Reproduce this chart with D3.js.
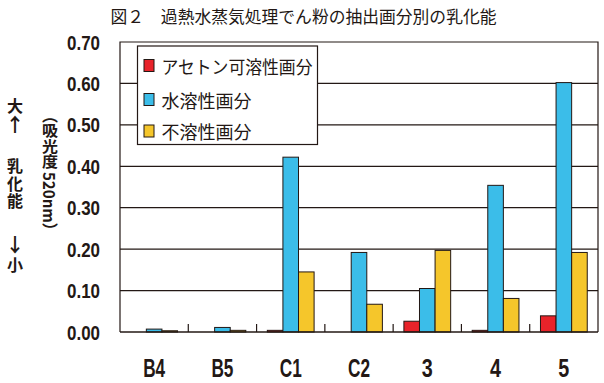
<!DOCTYPE html>
<html><head><meta charset="utf-8">
<script src="https://cdn.jsdelivr.net/npm/d3@7"></script>
<style>body{margin:0;background:#fff}svg{display:block}</style>
</head><body>
<svg id="c" width="604" height="383"></svg>
<script>
const categories = ["B4","B5","C1","C2","3","4","5"];
const seriesNames = ["アセトン可溶性画分","水溶性画分","不溶性画分"];
const acetone = [0, 0, 0.004, 0, 0.026, 0.004, 0.039];
const water = [0.007, 0.011, 0.422, 0.192, 0.105, 0.354, 0.602];
const insoluble = [0.003, 0.004, 0.145, 0.067, 0.197, 0.081, 0.192];
const yTicks = [0,0.1,0.2,0.3,0.4,0.5,0.6,0.7];
const colors = ["#e8232a","#3bbde9","#f5c62b"];
const title = "図２　過熱水蒸気処理でん粉の抽出画分別の乳化能";
const leftLabels = [["大","↑"],["乳","化","能"],["↓","小"]];

const ink = "#231815";
const svg = d3.select("#c");
const L=120,R=598,T=42,B=332;
const x0 = d3.scaleBand().domain(categories).range([L,R]).padding(0);
const x1 = d3.scaleBand().domain(seriesNames).range([0,x0.bandwidth()]).paddingOuter(0.69).paddingInner(0);
const y = d3.scaleLinear().domain([0,0.7]).range([B,T]);
const values = [acetone, water, insoluble];

// title
svg.append("text").attr("x",303.5).attr("y",15).attr("text-anchor","middle")
  .attr("dominant-baseline","central")
  .style("font-family","'Noto Sans CJK JP'").style("font-size","17px").attr("fill",ink)
  .attr("textLength",386).attr("lengthAdjust","spacingAndGlyphs").text(title);

// gridlines
svg.append("g").selectAll("line").data(yTicks.filter(d=>d>0 && d<0.7)).join("line")
  .attr("x1",L).attr("x2",R).attr("y1",d=>y(d)).attr("y2",d=>y(d))
  .attr("stroke",ink).attr("stroke-width",1.2);

// bars
const g = svg.append("g");
categories.forEach((c,i)=>{
  seriesNames.forEach((s,j)=>{
    const v = values[j][i];
    if(v<=0) return;
    g.append("rect").attr("x",x0(c)+x1(s)).attr("width",x1.bandwidth())
      .attr("y",y(v)).attr("height",y(0)-y(v))
      .attr("fill",colors[j]).attr("stroke",ink).attr("stroke-width",1);
  });
});

// frame
svg.append("path").attr("d",`M${L},${B}V${T}H${R}V${B}`).attr("fill","none").attr("stroke",ink).attr("stroke-width",1.2);
svg.append("line").attr("x1",L).attr("x2",R).attr("y1",B).attr("y2",B).attr("stroke",ink).attr("stroke-width",1.4);

// category separators
svg.append("g").selectAll("line").data(categories.slice(1)).join("line")
  .attr("x1",d=>x0(d)).attr("x2",d=>x0(d)).attr("y1",B).attr("y2",B-8)
  .attr("stroke",ink).attr("stroke-width",1.2);

// y tick labels
svg.append("g").selectAll("text").data(yTicks).join("text")
  .attr("x",100).attr("y",d=>y(d)).attr("text-anchor","end").attr("dominant-baseline","central")
  .style("font-family","'Liberation Sans'").style("font-weight","bold").style("font-size","20.5px")
  .attr("fill",ink).attr("textLength",33).attr("lengthAdjust","spacingAndGlyphs")
  .text(d=>d3.format(".2f")(d));

// x labels
svg.append("g").selectAll("text").data(categories).join("text")
  .attr("x",d=>x0(d)+x0.bandwidth()/2).attr("y",376.5).attr("text-anchor","middle")
  .style("font-family","'Liberation Sans'").style("font-weight","bold").style("font-size","25px")
  .attr("fill",ink)
  .attr("textLength",d=>d.length*11).attr("lengthAdjust","spacingAndGlyphs")
  .text(d=>d);

// legend
const lg = svg.append("g");
lg.append("rect").attr("x",137.5).attr("y",46).attr("width",180).attr("height",98.5)
  .attr("fill","#fff").attr("stroke",ink).attr("stroke-width",1.2);
const rowY = [65.5,99.5,131];
const lens = [151,90,90];
seriesNames.forEach((s,j)=>{
  lg.append("rect").attr("x",144).attr("y",rowY[j]-6).attr("width",10).attr("height",12)
    .attr("fill",colors[j]).attr("stroke",ink).attr("stroke-width",1);
  lg.append("text").attr("x",161.5).attr("y",rowY[j]).attr("dominant-baseline","central")
    .style("font-family","'Noto Sans CJK JP'").style("font-size","18px").attr("fill",ink)
    .attr("textLength",lens[j]).attr("lengthAdjust","spacingAndGlyphs").text(s);
});

// left vertical labels (vertical writing, upright glyphs)
const leftTops = [97.5,157.5,235.5];
leftLabels.forEach((grp,k)=>{
  const t = svg.append("text").attr("x",15).attr("y",leftTops[k])
    .style("writing-mode","vertical-rl").style("text-orientation","upright")
    .style("font-family","'Noto Sans CJK JP'").style("font-weight","bold")
    .style("font-size","16px").style("letter-spacing","1.5px").attr("fill",ink);
  t.selectAll("tspan").data(grp).join("tspan")
    .style("font-size",d=>(d==="↑"||d==="↓")?"19px":"16px")
    .text(d=>d);
});

svg.append("text").attr("x",50).attr("y",108)
  .style("writing-mode","vertical-rl")
  .style("font-family","'Noto Sans CJK JP'").style("font-weight","bold").style("font-size","16px")
  .attr("fill",ink).attr("textLength",130).attr("lengthAdjust","spacingAndGlyphs")
  .text("（吸光度 520nm）");
</script>
</body></html>
